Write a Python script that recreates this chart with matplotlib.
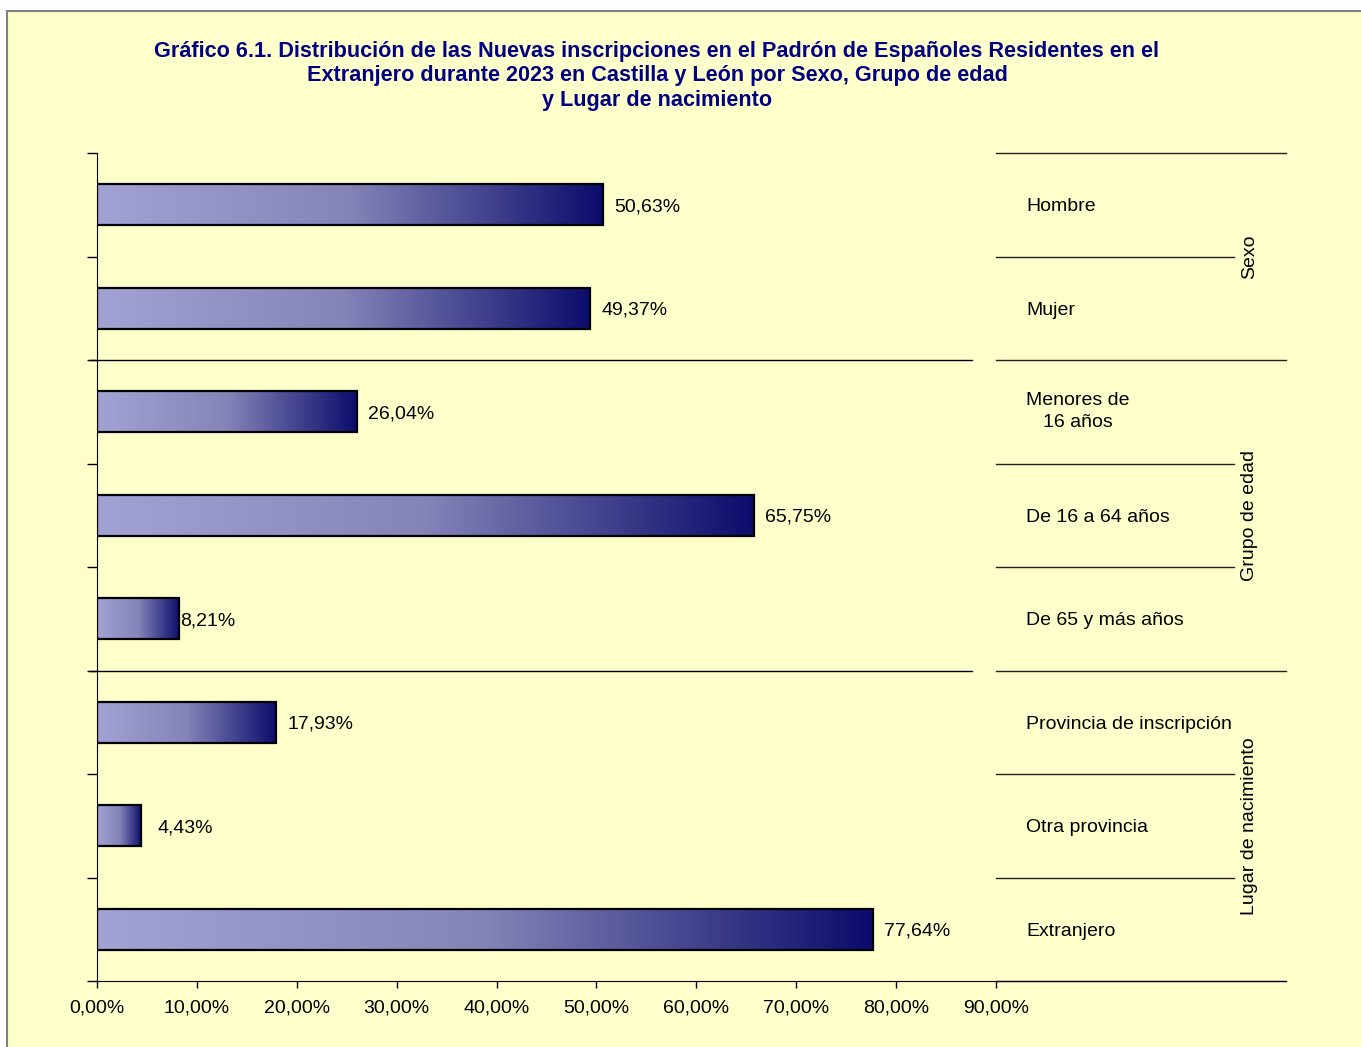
#!/usr/bin/env python3

import matplotlib
matplotlib.use("Agg")
import matplotlib.pyplot as plt
import numpy as np
from matplotlib.colors import LinearSegmentedColormap
from matplotlib.patches import Rectangle

plt.rcParams['font.family'] = ['Liberation Sans', 'DejaVu Sans']

TITLE = ("Gráfico 6.1. Distribución de las Nuevas inscripciones en el Padrón de Españoles Residentes en el\n"
         "Extranjero durante 2023 en Castilla y León por Sexo, Grupo de edad\n"
         "y Lugar de nacimiento")

categories = ["Hombre", "Mujer", "Menores de\n16 años", "De 16 a 64 años", "De 65 y más años",
              "Provincia de inscripción", "Otra provincia", "Extranjero"]
values = [50.63, 49.37, 26.04, 65.75, 8.21, 17.93, 4.43, 77.64]
groups = ["Sexo", "Grupo de edad", "Lugar de nacimiento"]
group_sizes = [2, 3, 3]
x_ticks = [0, 10, 20, 30, 40, 50, 60, 70, 80, 90]

BG = "#FFFFCC"
NAVY = "#000080"
grad = LinearSegmentedColormap.from_list("barra", ["#A2A2D4", "#8484B8", "#0C0C6C"])

W, H = 1361, 1047
fig = plt.figure(figsize=(W / 100, H / 100), dpi=100)
fig.patch.set_facecolor("white")
fig.patches.append(Rectangle((7 / W, -0.1), 1.2, 1 - 11 / H + 0.1, transform=fig.transFigure,
                             facecolor=BG, edgecolor="#808080", linewidth=1.5, zorder=-10))

ax = fig.add_axes([97 / W, 1 - 981 / H, (1286 - 97) / W, (981 - 153) / H])
ax.set_facecolor(BG)
ax.patch.set_alpha(0)

XMAX = 90 + 290 / 9.99

bar_h = 0.4
gradient = np.linspace(0, 1, 256).reshape(1, -1)
for i, v in enumerate(values):
    ax.imshow(gradient, cmap=grad, aspect="auto", interpolation="bilinear",
              extent=[0, v, i + bar_h / 2, i - bar_h / 2], zorder=2)
    ax.barh(i, v, height=bar_h, facecolor="none", edgecolor="black", linewidth=1.6, zorder=3)
    # excel puso la etiqueta de 8,21% pegada a la barra
    off = 1 if 5 < v < 10 else 8
    if v < 5:
        off = 12
    ax.annotate(f"{v:.2f}%".replace(".", ","), xy=(v, i), xytext=(off, 0),
                textcoords="offset points", va="center_baseline", ha="left", fontsize=14)

ax.set_xlim(0, XMAX)
ax.set_ylim(len(categories) - 0.5, -0.5)

# eje x
ax.set_xticks(x_ticks)
ax.set_xticklabels([f"{t:.2f}%".replace(".", ",") for t in x_ticks], fontsize=14)
ax.tick_params(axis="x", length=5, width=1, pad=8)
ax.set_yticks(np.arange(-0.5, len(categories), 1.0))
ax.set_yticklabels([])
ax.tick_params(axis="y", length=7, width=1)
for s in ["top", "right"]:
    ax.spines[s].set_visible(False)
ax.spines["left"].set_bounds(-0.5, len(categories) - 0.5)

# separadores de grupo y tabla de la derecha
bounds = np.cumsum([0] + group_sizes) - 0.5
for b in bounds[1:-1]:
    ax.plot([-0.7, 87.6], [b, b], color="black", lw=1, clip_on=False, zorder=1)
for b in bounds:
    ax.plot([90, XMAX], [b, b], color="#222222", lw=1, clip_on=False, zorder=1)
short_end = 90 + 238 / 9.99
start = 0
for g, n in zip(groups, group_sizes):
    for k in range(1, n):
        y = start + k - 0.5
        ax.plot([90, short_end], [y, y], color="#222222", lw=1, clip_on=False, zorder=1)
    ax.text(short_end + 1.6, start + (n - 1) / 2, g, rotation=90, ha="center", va="center", fontsize=14)
    start += n

for i, c in enumerate(categories):
    ax.text(93, i, c, ha="left", va="center_baseline" if "\n" not in c else "center",
            multialignment="center", fontsize=14, linespacing=1.35)

fig.text(657 / W, 1 - 76 / H, TITLE, ha="center", va="center", fontsize=15.6,
         fontweight="bold", color=NAVY, linespacing=1.24)

fig.savefig("out.png", dpi=100, facecolor=fig.get_facecolor())
